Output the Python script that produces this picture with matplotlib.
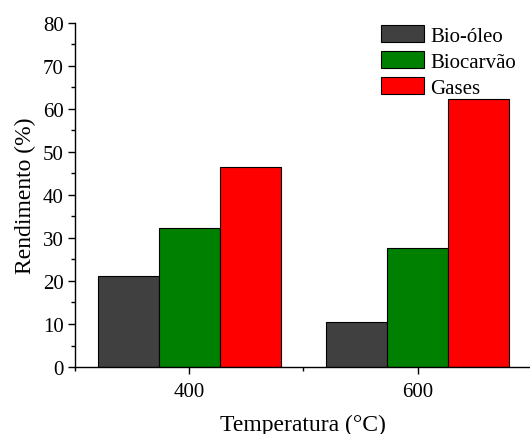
import numpy as np
import matplotlib.pyplot as plt
from matplotlib.ticker import MultipleLocator

plt.rcParams['font.family'] = ['Liberation Serif', 'DejaVu Serif']

# Data
temperaturas = ['400', '600']
series = ['Bio-óleo', 'Biocarvão', 'Gases']
bio_oleo = [21.1, 10.4]
biocarvao = [32.4, 27.6]
gases = [46.6, 62.2]
cores = ['#404040', '#008000', '#ff0000']

fig = plt.figure(figsize=(5.3, 4.35), dpi=100)
ax = fig.add_axes([0.1415, 0.154, 0.862, 0.791])

x = np.arange(len(temperaturas))
w = 0.267
for i, (vals, nome, cor) in enumerate(zip([bio_oleo, biocarvao, gases], series, cores)):
    ax.bar(x + (i - 1) * w, vals, width=w, color=cor, edgecolor='black',
           linewidth=0.8, label=nome)

ax.set_xlim(-0.5, 1.5)
ax.set_ylim(0, 80)
ax.set_xticks(x)
ax.set_xticklabels(temperaturas)
ax.xaxis.set_minor_locator(MultipleLocator(0.5))
ax.yaxis.set_major_locator(MultipleLocator(10))
ax.yaxis.set_minor_locator(MultipleLocator(5))

for s in ['top', 'right']:
    ax.spines[s].set_visible(False)
for s in ['left', 'bottom']:
    ax.spines[s].set_linewidth(1.0)

ax.tick_params(axis='both', which='major', direction='out', length=5, width=1,
               labelsize=15)
ax.tick_params(axis='both', which='minor', direction='out', length=3, width=1)
ax.tick_params(axis='x', which='minor', bottom=True)
ax.tick_params(axis='x', pad=6)
ax.tick_params(axis='y', pad=3)

ax.set_ylabel('Rendimento (%)', fontsize=17, labelpad=5)
ax.set_xlabel('Temperatura (°C)', fontsize=17, labelpad=9)

leg = ax.legend(loc='upper left', bbox_to_anchor=(381 / 530, 1 - 26 / 435),
                bbox_transform=fig.transFigure, frameon=False,
                fontsize=15, handlelength=2.05, handleheight=0.85,
                labelspacing=0.27, handletextpad=0.3,
                borderpad=0, borderaxespad=0)

fig.savefig('out.png', dpi=100)
